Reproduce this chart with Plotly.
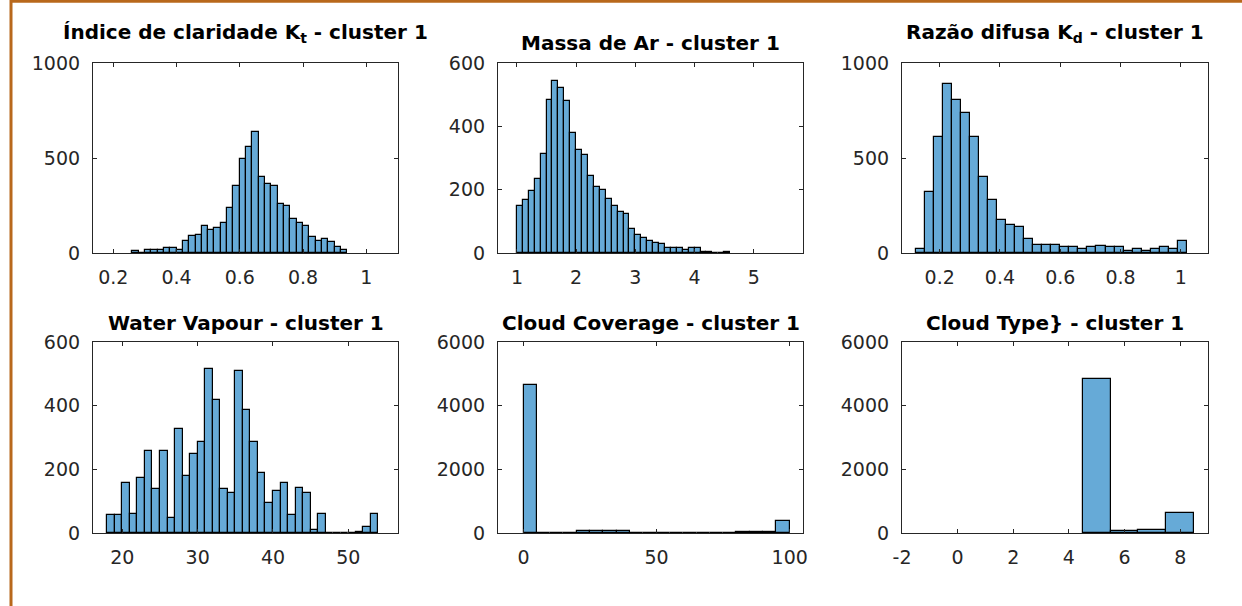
import plotly.graph_objects as go

W, H = 1242, 606

# ---------------- data ----------------
kt_start, kt_width = 0.26, 0.02
kt_counts = [8, 0, 15, 15, 18, 28, 28, 18, 61, 88, 96, 140, 123, 130, 158, 237,
             351, 495, 556, 637, 398, 363, 354, 258, 246, 179, 158, 140, 82, 65,
             74, 58, 30, 18]

am_start, am_width = 1.0, 0.1
am_counts = [150, 166, 197, 234, 314, 484, 544, 522, 479, 378, 325, 308, 244,
             208, 198, 172, 149, 129, 122, 76, 58, 48, 39, 33, 28, 16, 16, 16,
             11, 17, 17, 4, 4, 0, 0, 4]

kd_start, kd_width = 0.12, 0.03
kd_counts = [20, 320, 608, 892, 805, 735, 608, 399, 277, 172, 145, 136, 73, 44,
             44, 44, 30, 30, 19, 30, 38, 30, 30, 10, 19, 10, 19, 30, 19, 64]

wv_start, wv_width = 18, 1
wv_counts = [57, 57, 158, 61, 173, 258, 137, 258, 47, 327, 179, 248, 285, 514,
             417, 137, 126, 508, 386, 285, 189, 95, 131, 158, 56, 142, 126, 9,
             61, 0, 0, 0, 0, 3, 20, 61]

cc_start, cc_width = 0, 5
cc_counts = [4660, 0, 0, 0, 55, 55, 55, 55, 0, 0, 0, 0, 0, 0, 0, 0, 40, 40, 40, 390]

ct_start, ct_width = 4.5, 1
ct_counts = [4830, 50, 105, 630]

titles = [
    "<b>Índice de claridade K<sub>t</sub> - cluster 1</b>",
    "<b>Massa de Ar - cluster 1</b>",
    "<b>Razão difusa K<sub>d</sub> - cluster 1</b>",
    "<b>Water Vapour - cluster 1</b>",
    "<b>Cloud Coverage - cluster 1</b>",
    "<b>Cloud Type} - cluster 1</b>",
]

x_ranges = [[0.136, 1.10], [0.68, 5.83], [0.075, 1.09],
            [16.1, 56.6], [-9.6, 105], [-2, 9]]
x_ticks = [[0.2, 0.4, 0.6, 0.8, 1], [1, 2, 3, 4, 5], [0.2, 0.4, 0.6, 0.8, 1],
           [20, 30, 40, 50], [0, 50, 100], [-2, 0, 2, 4, 6, 8]]
x_ticktext = [["0.2", "0.4", "0.6", "0.8", "1"], ["1", "2", "3", "4", "5"],
              ["0.2", "0.4", "0.6", "0.8", "1"], ["20", "30", "40", "50"],
              ["0", "50", "100"], ["-2", "0", "2", "4", "6", "8"]]
y_maxes = [1000, 600, 1000, 600, 6000, 6000]
y_ticks = [[0, 500, 1000], [0, 200, 400, 600], [0, 500, 1000],
           [0, 200, 400, 600], [0, 2000, 4000, 6000], [0, 2000, 4000, 6000]]

series = [(kt_start, kt_width, kt_counts), (am_start, am_width, am_counts),
          (kd_start, kd_width, kd_counts), (wv_start, wv_width, wv_counts),
          (cc_start, cc_width, cc_counts), (ct_start, ct_width, ct_counts)]

# ---------------- layout geometry (pixels) ----------------
col_px = [(93, 398), (498, 803), (902, 1208)]
row_px = [(63, 253), (342, 533)]
title_y = [[33, 43, 33], [323, 323, 323]]

BAR_COLOR = "rgb(102,170,215)"
AX_COLOR = "#262626"
FONT = "DejaVu Sans"

fig = go.Figure()
layout = dict(width=W, height=H, margin=dict(l=0, r=0, t=0, b=0, autoexpand=False),
              paper_bgcolor="white", plot_bgcolor="white", showlegend=False,
              bargap=0)
annotations = []

for i, (start, width, counts) in enumerate(series):
    r, c = divmod(i, 3)
    n = i + 1
    xa = "x" if n == 1 else f"x{n}"
    ya = "y" if n == 1 else f"y{n}"
    centers = [start + width * (k + 0.5) for k in range(len(counts))]
    fig.add_trace(go.Bar(x=centers, y=counts, width=width, xaxis=xa, yaxis=ya,
                         marker=dict(color=BAR_COLOR,
                                     line=dict(color="black", width=1.2)),
                         hoverinfo="x+y"))
    x0, x1 = col_px[c]
    y0, y1 = row_px[r]
    axis_common = dict(showgrid=False, zeroline=False, showline=True,
                       linecolor=AX_COLOR, linewidth=1.2, mirror="ticks",
                       ticks="inside", ticklen=4, tickwidth=1,
                       tickcolor=AX_COLOR, automargin=False,
                       tickfont=dict(family=FONT, size=19, color=AX_COLOR))
    layout["xaxis" if n == 1 else f"xaxis{n}"] = dict(
        domain=[x0 / W, x1 / W], anchor=ya, range=x_ranges[i],
        tickvals=x_ticks[i], ticktext=x_ticktext[i], ticklabelstandoff=7,
        **axis_common)
    layout["yaxis" if n == 1 else f"yaxis{n}"] = dict(
        domain=[1 - y1 / H, 1 - y0 / H], anchor=xa, range=[0, y_maxes[i]],
        tickvals=y_ticks[i], ticklabelstandoff=8, **axis_common)
    annotations.append(dict(
        text=titles[i], xref="paper", yref="paper",
        x=((x0 + x1) / 2) / W, y=1 - title_y[r][c] / H,
        xanchor="center", yanchor="middle", showarrow=False,
        font=dict(family=FONT, size=20, color="black")))

layout["annotations"] = annotations
BORDER = "rgb(184,104,28)"
layout["shapes"] = [
    dict(type="line", xref="paper", yref="paper", x0=11 / W, x1=11 / W,
         y0=0, y1=1, line=dict(color=BORDER, width=3)),
    dict(type="line", xref="paper", yref="paper", x0=11 / W, x1=1,
         y0=1 - 1.2 / H, y1=1 - 1.2 / H, line=dict(color=BORDER, width=3)),
]
fig.update_layout(**layout)
fig.write_html("out.html")
